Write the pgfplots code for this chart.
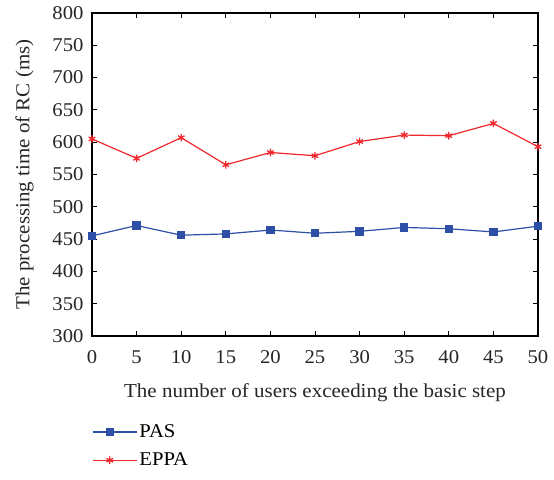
\documentclass[border=0pt]{standalone}
\usepackage{fontspec}
\setmainfont{Liberation Serif}[FakeStretch=1.06]
\usepackage{pgfplots}
\pgfplotsset{compat=1.18}
\definecolor{pasblue}{HTML}{2E4FA6}
\definecolor{eppared}{HTML}{F0282D}
\begin{document}
\begin{tikzpicture}
\fontsize{19}{22}\selectfont
\begin{axis}[
  scale only axis,
  width=446pt, height=323pt,
  xmin=0, xmax=50, ymin=300, ymax=800,
  xtick={0,5,...,50}, ytick={300,350,...,800},
  tick align=inside,
  major tick length=5pt,
  axis line style={line width=1.2pt},
  tick style={line width=0.8pt, black},
  /pgf/number format/assume math mode=true,
  ticklabel style={font=\fontsize{19.5}{22}\selectfont, color=black!85},
  xticklabel style={yshift=-8pt},
  yticklabel style={xshift=-2pt},
  label style={font=\fontsize{19.8}{23}\selectfont, color=black!85},
  xlabel={The number of users exceeding the basic step},
  ylabel={The processing time of RC (ms)},
  xlabel style={yshift=-7pt},
  ylabel style={yshift=6pt},
  legend style={at={(0,-0.26)}, anchor=north west, draw=none, font=\fontsize{19.5}{22}\selectfont, row sep=8.5pt, fill=none, inner xsep=0pt},
  legend cell align=left,
  legend image code/.code={\path (0pt,0pt) -- (44pt,0pt); \draw[#1] (0pt,0pt) -- (17pt,0pt) node[pos=0.5]{} ;\draw[#1, mark repeat=1] plot coordinates {(17pt,0pt)}; \draw[#1] (17pt,0pt) -- (34pt,0pt);},
]
\addplot[color=pasblue, line width=1.2pt, mark=square*, mark size=3.6pt, mark options={solid}] coordinates {
(0,455) (5,471) (10,456) (15,458) (20,464) (25,459) (30,462) (35,468) (40,466) (45,461) (50,470)};
\addlegendentry{PAS}
\addplot[color=eppared, line width=1.2pt, mark=asterisk, mark size=3.8pt, mark options={solid, line width=1.3pt}] coordinates {
(0,605) (5,575) (10,607) (15,565) (20,584) (25,579) (30,601) (35,611) (40,610) (45,629) (50,593)};
\addlegendentry{EPPA}
\coordinate (bl) at (rel axis cs:-0.2063,-0.4458);
\coordinate (tr) at (rel axis cs:1.0359,1.0402);
\end{axis}
\pgfresetboundingbox
\path (bl) rectangle (tr);
\end{tikzpicture}
\end{document}
